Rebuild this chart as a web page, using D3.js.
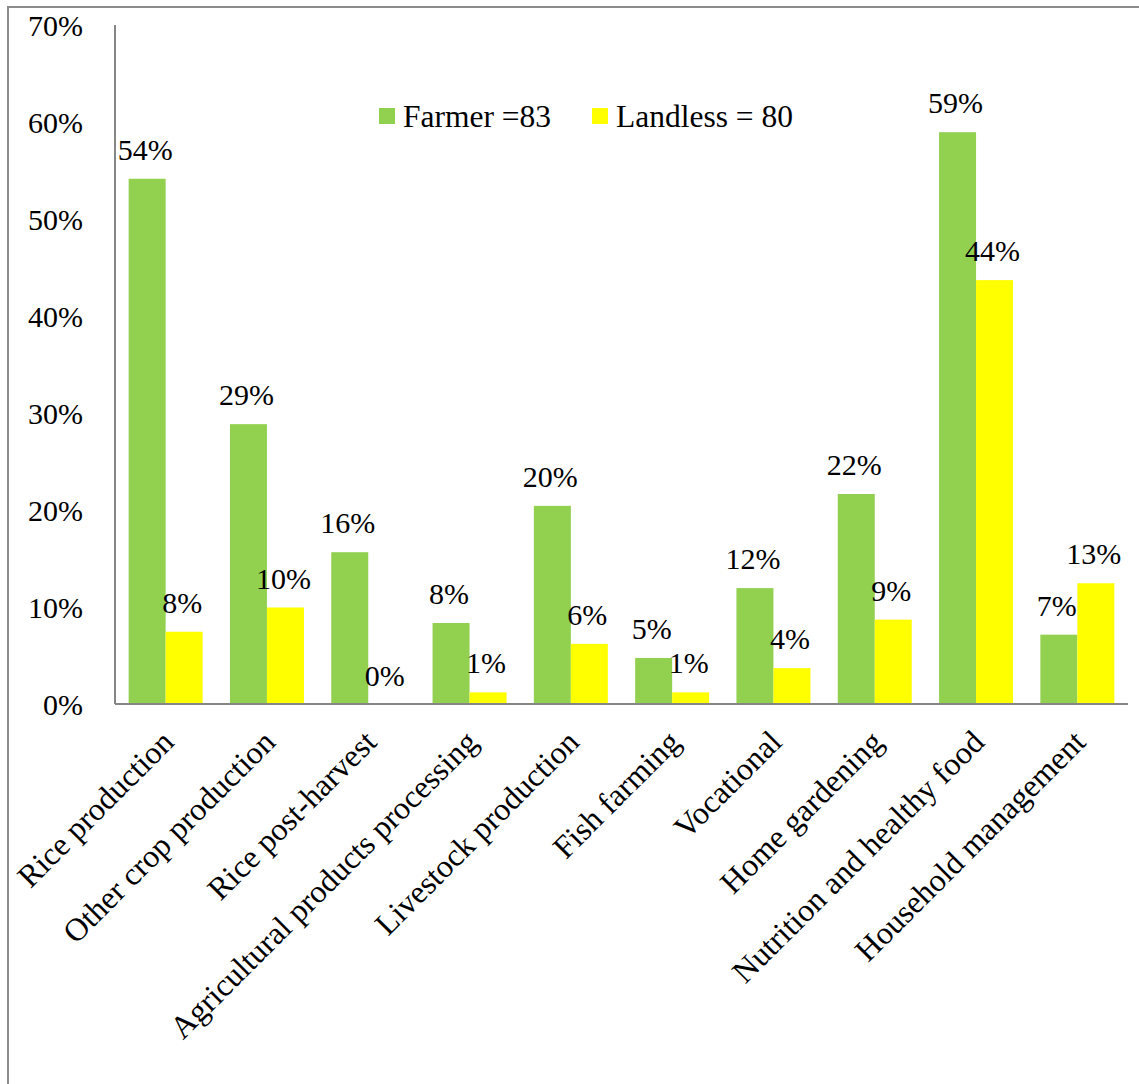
<!DOCTYPE html>
<html>
<head>
<meta charset="utf-8">
<script src="https://cdn.jsdelivr.net/npm/d3@7"></script>
<style>
  html, body { margin: 0; padding: 0; background: #fff; }
  svg { display: block; }
</style>
</head>
<body>
<svg id="chart" width="1139" height="1084" font-family="'Liberation Serif', 'Times New Roman', serif"></svg>
<script>
const categories = ["Rice production", "Other crop production", "Rice post-harvest",
  "Agricultural products processing", "Livestock production", "Fish farming",
  "Vocational", "Home gardening", "Nutrition and healthy food", "Household management"];
const seriesNames = ["Farmer =83", "Landless = 80"];
const farmer = [0.542, 0.289, 0.157, 0.084, 0.2048, 0.048, 0.120, 0.217, 0.590, 0.072];
const landless = [0.075, 0.100, 0.000, 0.0125, 0.0625, 0.0125, 0.0375, 0.0875, 0.4375, 0.125];
const yTicks = [0, 0.1, 0.2, 0.3, 0.4, 0.5, 0.6, 0.7];
const colors = ["#92D050", "#FFFF00"];

const FONT = "'Liberation Serif', 'Times New Roman', serif";
const svg = d3.select("#chart");
const W = 1139, H = 1084;
const plotLeft = 115, plotRight = 1128, plotTop = 25, plotBottom = 704;

// outer border (cropped at right and bottom)
svg.append("path")
  .attr("d", `M8,${H} V7 H${W}`)
  .attr("fill", "none").attr("stroke", "#8c8c8c").attr("stroke-width", 2);

const x = d3.scaleBand().domain(categories).range([plotLeft, plotRight]).paddingInner(0).paddingOuter(0);
const y = d3.scaleLinear().domain([0, 0.7]).range([704.5, 25.5]);
const barW = 37;
const inner = d3.scaleBand().domain([0, 1]).range([-barW, barW]);

const data = [farmer, landless];

// bars
data.forEach((vals, s) => {
  svg.append("g").selectAll("rect").data(vals).join("rect")
    .attr("x", (d, i) => x(categories[i]) + x.bandwidth() / 2 + inner(s))
    .attr("y", d => y(d))
    .attr("width", inner.bandwidth())
    .attr("height", d => y(0) - y(d))
    .attr("fill", colors[s]);
});

// value labels
data.forEach((vals, s) => {
  svg.append("g").selectAll("text").data(vals).join("text")
    .attr("x", (d, i) => x(categories[i]) + x.bandwidth() / 2 + inner(s) + inner.bandwidth() / 2 - 2)
    .attr("y", d => y(d) - 19)
    .attr("text-anchor", "middle")
    .attr("font-family", FONT)
    .attr("font-size", 30)
    .attr("fill", "#000")
    .text(d => Math.round(d * 100) + "%");
});

// y axis
const yAxis = d3.axisLeft(y).tickValues(yTicks).tickSize(0).tickPadding(32)
  .tickFormat(d => Math.round(d * 100) + "%");
const gy = svg.append("g").attr("transform", `translate(${plotLeft},0)`).call(yAxis)
  .attr("font-family", FONT).attr("font-size", 30);
gy.select(".domain").remove();
gy.selectAll("text").attr("font-family", FONT).attr("font-size", 30).attr("fill", "#000").attr("dy", "0.34em");
svg.append("line").attr("x1", plotLeft).attr("x2", plotLeft).attr("y1", plotTop).attr("y2", plotBottom)
  .attr("stroke", "#868686").attr("stroke-width", 2);

// x axis
const xAxis = d3.axisBottom(x).tickSize(0).tickPadding(0);
const gx = svg.append("g").attr("transform", `translate(0,${plotBottom})`).call(xAxis)
  .attr("font-family", FONT).attr("font-size", 32);
gx.select(".domain").remove();
gx.selectAll("text")
  .attr("font-family", FONT)
  .attr("font-size", 32)
  .attr("fill", "#000")
  .attr("text-anchor", "end")
  .attr("dy", null).attr("y", null)
  .attr("transform", "translate(10,40) rotate(-45)");
svg.append("line").attr("x1", plotLeft).attr("x2", plotRight).attr("y1", plotBottom).attr("y2", plotBottom)
  .attr("stroke", "#868686").attr("stroke-width", 2);

// legend
const legX = [379, 592];
seriesNames.forEach((name, s) => {
  svg.append("rect").attr("x", legX[s]).attr("y", 108).attr("width", 16).attr("height", 16)
    .attr("fill", colors[s]);
  svg.append("text").attr("x", legX[s] + 24).attr("y", 127)
    .attr("font-family", FONT).attr("font-size", 31.5).attr("fill", "#000").text(name);
});
</script>
</body>
</html>
